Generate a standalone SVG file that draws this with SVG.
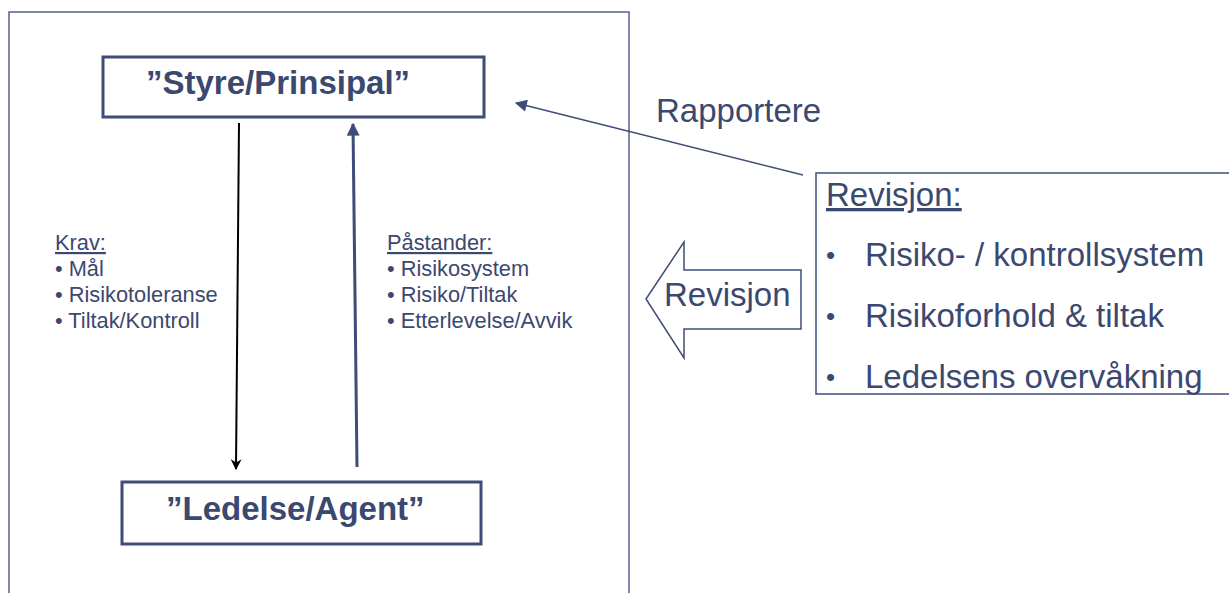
<svg xmlns="http://www.w3.org/2000/svg" width="1229" height="593" viewBox="0 0 1229 593">
<style>
.t{font-family:"Liberation Sans",Arial,sans-serif;fill:#3b4870}
.b{font-weight:bold;font-size:33px}
.s{font-size:21.8px}
.l{font-size:33px}
.d{font-size:26px}
.u{text-decoration:underline}
.box{fill:#fff;stroke:#3f4c78;stroke-width:3}
.thin{fill:#fff;stroke:#3f4c78;stroke-width:1.5}
</style>
<defs>
<marker id="hb" markerUnits="userSpaceOnUse" viewBox="0 0 10 10" refX="9" refY="5" markerWidth="11" markerHeight="11" orient="auto"><path d="M0,0 L10,5 L0,10 L3,5 z" fill="#000"/></marker>
<marker id="hu" markerUnits="userSpaceOnUse" viewBox="0 0 10 10" refX="9" refY="5" markerWidth="13" markerHeight="13" orient="auto"><path d="M0,0 L10,5 L0,10 z" fill="#3f4c78"/></marker>
<marker id="hr" markerUnits="userSpaceOnUse" viewBox="0 0 10 10" refX="9" refY="5" markerWidth="14" markerHeight="12" orient="auto"><path d="M0,0 L10,5 L0,10 z" fill="#3f4c78"/></marker>
</defs>
<rect x="0" y="0" width="1229" height="593" fill="#fff"/>
<g id="frame"><path d="M9,620 V12 H629 V620" fill="none" stroke="#56628a" stroke-width="1.5"/></g>
<g id="connectors">
<line x1="239" y1="123" x2="236" y2="469" stroke="#000" stroke-width="2" marker-end="url(#hb)"/>
<line x1="357" y1="467" x2="353" y2="124" stroke="#3f4c78" stroke-width="3" marker-end="url(#hu)"/>
<line x1="803" y1="175" x2="516" y2="103" stroke="#3f4c78" stroke-width="1.5" marker-end="url(#hr)"/>
</g>
<g id="styre">
<rect class="box" x="103" y="57" width="381" height="60"/>
<text class="t b" x="146" y="94">”Styre/Prinsipal”</text>
</g>
<g id="ledelse">
<rect class="box" x="122" y="482" width="359" height="62"/>
<text class="t b" x="166" y="520">”Ledelse/Agent”</text>
</g>
<g id="krav">
<text class="t s u" x="55" y="250">Krav:</text>
<text class="t s" x="55" y="276">• Mål</text>
<text class="t s" x="55" y="302">• Risikotoleranse</text>
<text class="t s" x="55" y="328">• Tiltak/Kontroll</text>
</g>
<g id="pastander">
<text class="t s u" x="387" y="250">Påstander:</text>
<text class="t s" x="387" y="276">• Risikosystem</text>
<text class="t s" x="387" y="302">• Risiko/Tiltak</text>
<text class="t s" x="387" y="328">• Etterlevelse/Avvik</text>
</g>
<g id="rapportere">
<text class="t l" x="656" y="122">Rapportere</text>
</g>
<g id="revisjon-arrow">
<path class="thin" d="M646,299 L684,242 L684,270 L801,270 L801,329 L684,329 L684,358 Z"/>
<text class="t l" x="664" y="306">Revisjon</text>
</g>
<g id="revisjon-box">
<rect class="thin" x="816" y="173" width="430" height="221"/>
<text class="t l u" x="826" y="206">Revisjon:</text>
<text class="t d" x="826" y="264">•</text>
<text class="t l" x="865" y="266">Risiko- / kontrollsystem</text>
<text class="t d" x="826" y="325">•</text>
<text class="t l" x="865" y="327">Risikoforhold &amp; tiltak</text>
<text class="t d" x="826" y="386">•</text>
<text class="t l" x="865" y="388">Ledelsens overvåkning</text>
</g>
</svg>
